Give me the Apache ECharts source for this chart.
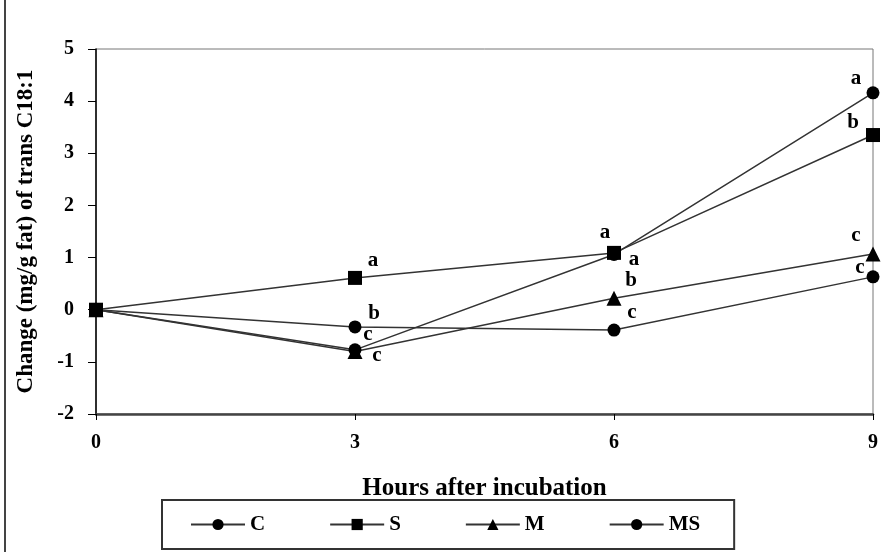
<!DOCTYPE html>
<html>
<head>
<meta charset="utf-8">
<script src="https://cdn.jsdelivr.net/npm/echarts@6/dist/echarts.min.js"></script>
<style>html,body{margin:0;padding:0;background:#fff;}#c{width:889px;height:552px;}</style>
</head>
<body>
<div id="c"></div>
<script>
var hours = [0, 3, 6, 9];
var xTicks = [0, 3, 6, 9];
var yTicks = [-2, -1, 0, 1, 2, 3, 4, 5];
var seriesNames = ['C', 'S', 'M', 'MS'];
var valC  = [0, -0.33, -0.39, 0.63];
var valS  = [0, 0.61, 1.09, 3.35];
var valM  = [0, -0.80, 0.22, 1.07];
var valMS = [0, -0.77, 1.06, 4.16];
var letC  = [null, 'b', 'c', 'c'];
var letS  = [null, 'a', 'a', 'b'];
var letM  = [null, 'c', 'b', 'c'];
var letMS = [null, 'c', 'a', 'a'];
var xTitle = 'Hours after incubation';
var yTitle = 'Change (mg/g fat) of trans C18:1';

// label placement offsets (style only)
var offC  = [null, [19, -13], [18, -17], [-13, -9]];
var offS  = [null, [18, -17], [-9, -20], [-20, -12]];
var offM  = [null, [22, 4], [17, -18], [-17, -18]];
var offMS = [null, [13, -15], [20, 5], [-17, -14]];

var FONT = '"Liberation Serif", "Times New Roman", serif';

function build(vals, lets, offs) {
  return hours.map(function (h, i) {
    var d = { value: [h, vals[i]] };
    if (lets[i]) {
      d.label = {
        show: true, formatter: lets[i], position: 'inside', offset: offs[i],
        color: '#000', fontFamily: FONT, fontWeight: 'bold', fontSize: 21,
        align: 'center', verticalAlign: 'middle'
      };
    }
    return d;
  });
}

function mk(name, vals, lets, offs, symbol, size) {
  return {
    name: name, type: 'line', data: build(vals, lets, offs),
    symbol: symbol, symbolSize: size, showSymbol: true,
    itemStyle: { color: '#000' },
    lineStyle: { color: '#333', width: 1.5 },
    label: { show: false },
    animation: false, z: 3
  };
}

var chart = echarts.init(document.getElementById('c'));
chart.setOption({
  backgroundColor: '#fff',
  animation: false,
  grid: { left: 96, right: 16, top: 49, bottom: 138, show: true, borderColor: '#777', borderWidth: 1 },
  xAxis: {
    type: 'value', min: xTicks[0], max: xTicks[xTicks.length - 1], interval: 3,
    name: xTitle, nameLocation: 'middle', nameGap: 62,
    nameTextStyle: { fontFamily: FONT, fontWeight: 'bold', fontSize: 25, color: '#000' },
    axisLine: { onZero: false, lineStyle: { color: '#444', width: 2.5 } },
    axisTick: { show: true, length: 6, lineStyle: { color: '#000' } },
    axisLabel: { fontFamily: FONT, fontWeight: 'bold', fontSize: 20, color: '#000', margin: 19 },
    splitLine: { show: false }
  },
  yAxis: {
    type: 'value', min: yTicks[0], max: yTicks[yTicks.length - 1], interval: 1,
    name: yTitle, nameLocation: 'middle', nameGap: 58, nameRotate: 90,
    nameTextStyle: { fontFamily: FONT, fontWeight: 'bold', fontSize: 23, color: '#000' },
    axisLine: { show: true, onZero: false, lineStyle: { color: '#000', width: 1.5 } },
    axisTick: { show: true, length: 8, lineStyle: { color: '#000' } },
    axisLabel: { fontFamily: FONT, fontWeight: 'bold', fontSize: 20, color: '#000', margin: 22 },
    splitLine: { show: false }
  },
  legend: {
    data: seriesNames,
    bottom: 3, left: 162,
    width: 571,
    padding: [14, 34, 14, 28],
    borderColor: '#333', borderWidth: 2,
    itemWidth: 54, itemHeight: 14, itemGap: 64,
    textStyle: { fontFamily: FONT, fontWeight: 'bold', fontSize: 21, color: '#000' }
  },
  graphic: [
    { type: 'line', shape: { x1: 5, y1: 0, x2: 5, y2: 552 }, style: { stroke: '#444', lineWidth: 2 } }
  ],
  series: [
    mk('C', valC, letC, offC, 'circle', 13),
    mk('S', valS, letS, offS, 'rect', 14),
    mk('M', valM, letM, offM, 'triangle', 15),
    mk('MS', valMS, letMS, offMS, 'circle', 13)
  ]
});
</script>
</body>
</html>
